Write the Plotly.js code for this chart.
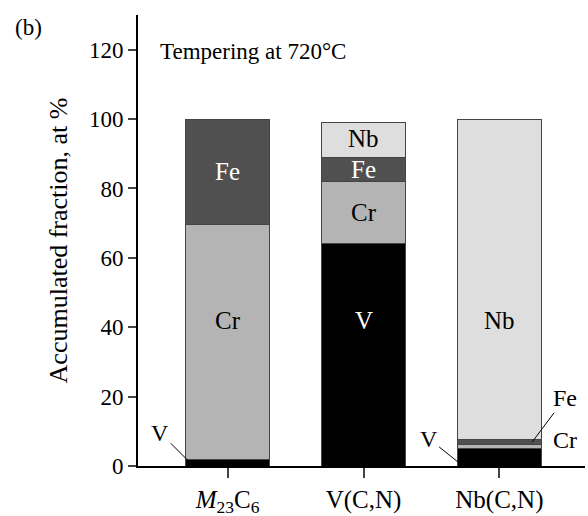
<!DOCTYPE html>
<html><head><meta charset="utf-8">
<script src="https://cdn.plot.ly/plotly-3.0.1.min.js"></script>
<style>body{margin:0;background:#fff}</style>
</head><body>
<div id="chart" style="width:588px;height:516px"></div>
<script>
const categories = ["M23C6", "V(C,N)", "Nb(C,N)"];
const tickLabels = ["<i>M</i><sub>23</sub>C<sub>6</sub>", "V(C,N)", "Nb(C,N)"];
const valV  = [2, 64, 5];
const valCr = [67.5, 18, 1.2];
const valFe = [30.5, 7, 1.3];
const valNb = [0, 10, 92.5];

const serif = "Liberation Serif, Times New Roman, serif";
const mk = (name, y, color) => ({
  type: "bar", name: name, x: [0, 1, 2], y: y, width: 0.62,
  marker: {color: color, line: {color: "#444", width: 1}},
  hoverinfo: "skip"
});
const traces = [
  mk("V", valV, "#000000"),
  mk("Cr", valCr, "#b4b4b4"),
  mk("Fe", valFe, "#505050"),
  mk("Nb", valNb, "#dedede")
];

const arrs = [valV, valCr, valFe, valNb];
function cum(i, upto) { let s = 0; for (let k = 0; k < upto; k++) s += arrs[k][i]; return s; }
function mid(i, k) { return cum(i, k) + arrs[k][i] / 2; }

const f = (c, s) => ({family: serif, size: s || 25, color: c});
const annotations = [
  {x: 0, y: mid(0, 2), text: "Fe", showarrow: false, font: f("#fff")},
  {x: 0, y: 42, text: "Cr", showarrow: false, font: f("#000")},
  {x: 1, y: 42, text: "V", showarrow: false, font: f("#fff")},
  {x: 1, y: mid(1, 1), text: "Cr", showarrow: false, font: f("#000")},
  {x: 1, y: mid(1, 2), text: "Fe", showarrow: false, font: f("#fff")},
  {x: 1, y: mid(1, 3) + 0.5, text: "Nb", showarrow: false, font: f("#000")},
  {x: 2, y: 42, text: "Nb", showarrow: false, font: f("#000")},
  {x: -0.29, y: 1.5, text: "V", showarrow: true, arrowhead: 0, arrowwidth: 1, arrowcolor: "#000", ax: -28, ay: -28, font: f("#000", 24)},
  {x: 1.7, y: 1, text: "V", showarrow: true, arrowhead: 0, arrowwidth: 1, arrowcolor: "#000", ax: -30, ay: -24, font: f("#000", 24)},
  {x: 2.24, y: cum(2, 2) + valFe[2] / 2, text: "Fe", showarrow: true, arrowhead: 0, arrowwidth: 1, arrowcolor: "#000", ax: 33, ay: -44, font: f("#000", 24)},
  {x: 2.48, y: 7.5, text: "Cr", showarrow: false, font: f("#000", 24)},
  {xref: "paper", yref: "paper", x: 0.045, y: 0.918, xanchor: "left", yanchor: "middle", text: "Tempering at 720°C", showarrow: false, font: f("#000", 23)},
  {xref: "paper", yref: "paper", x: -0.246, y: 0.973, xanchor: "center", yanchor: "middle", text: "(b)", showarrow: false, font: f("#000", 23)}
];

const layout = {
  width: 588, height: 516,
  margin: {l: 138, r: 3, t: 15, b: 50},
  paper_bgcolor: "#fff", plot_bgcolor: "#fff",
  barmode: "stack", showlegend: false,
  font: {family: serif, size: 23, color: "#000"},
  xaxis: {
    range: [-0.66, 2.63], tickvals: [0, 1, 2], ticktext: tickLabels,
    showline: true, linewidth: 2, linecolor: "#000", ticks: "outside", ticklen: 10, tickwidth: 2,
    showgrid: false, zeroline: false, tickfont: f("#000", 25)
  },
  yaxis: {
    range: [0, 130], tickvals: [0, 20, 40, 60, 80, 100, 120],
    showline: true, linewidth: 2, linecolor: "#000", ticks: "outside", ticklen: 8, tickwidth: 2,
    showgrid: false, zeroline: false, tickfont: f("#000", 23),
    title: {text: "Accumulated fraction, at %", font: f("#000", 26), standoff: 14}
  },
  annotations: annotations
};
Plotly.newPlot("chart", traces, layout, {displayModeBar: false, staticPlot: true});
</script>
</body></html>
